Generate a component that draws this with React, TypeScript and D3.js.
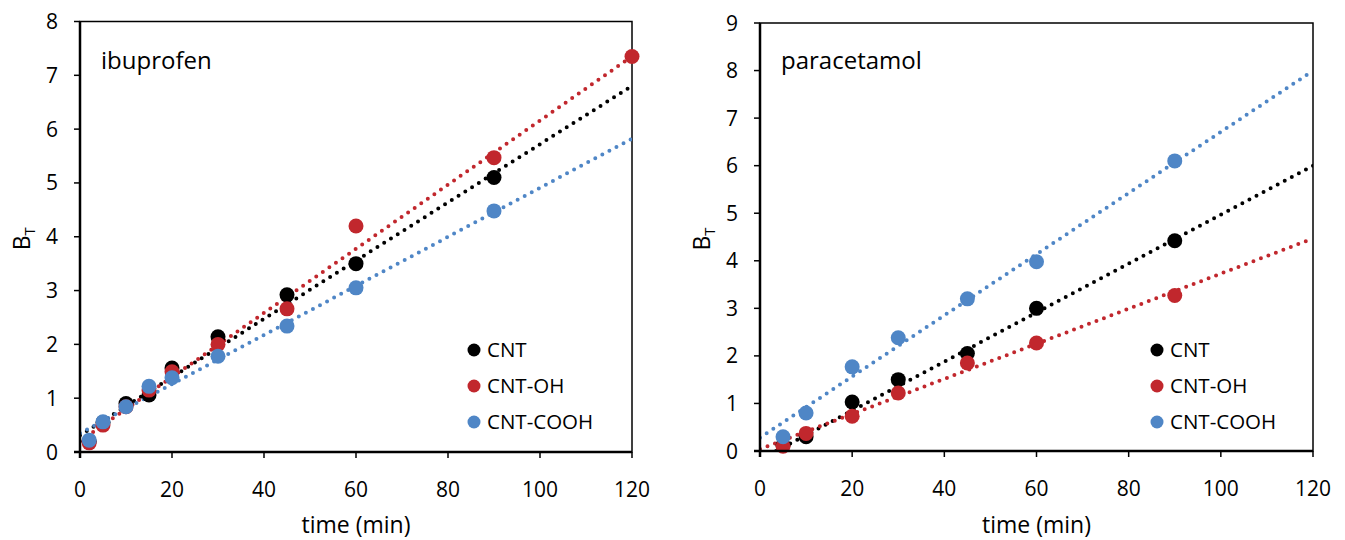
import * as d3 from "d3";

// shared time points (min)
const timeIbu = [2, 5, 10, 15, 20, 30, 45, 60, 90, 120];
const timePara = [5, 10, 20, 30, 45, 60, 90];

// ibuprofen B_T values
const ibuCNT = [0.2, 0.55, 0.9, 1.06, 1.56, 2.14, 2.92, 3.5, 5.1, null];
const ibuOH = [0.17, 0.5, 0.84, 1.15, 1.49, 2.0, 2.66, 4.2, 5.47, 7.35];
const ibuCOOH = [0.22, 0.56, 0.84, 1.22, 1.38, 1.78, 2.34, 3.05, 4.48, null];

// paracetamol B_T values
const paraCNT = [0.12, 0.3, 1.03, 1.5, 2.05, 3.0, 4.42];
const paraOH = [0.1, 0.37, 0.73, 1.22, 1.85, 2.27, 3.27];
const paraCOOH = [0.3, 0.8, 1.77, 2.38, 3.2, 3.98, 6.1];

// linear trendlines [intercept, slope]
const ibuTrend = [
  [0.31, 0.0541],
  [0.2, 0.0596],
  [0.35, 0.0456],
];
const paraTrend = [
  [-0.18, 0.0515],
  [0.04, 0.0369],
  [0.28, 0.0643],
];

const seriesNames = ["CNT", "CNT-OH", "CNT-COOH"];
const colors = ["#000000", "#C1272D", "#4F86C6"];
const xTicks = [0, 20, 40, 60, 80, 100, 120];

const FONT = "'Open Sans', 'Noto Sans', sans-serif";

interface PanelProps {
  title: string;
  time: number[];
  series: (number | null)[][];
  trends: number[][];
  yMax: number;
  box: { left: number; right: number; top: number; bottom: number };
  legendX: number;
  labelX: number;
  id: string;
}

function Panel({ title, time, series, trends, yMax, box, legendX, labelX, id }: PanelProps) {
  const x = d3.scaleLinear().domain([0, 120]).range([box.left, box.right]);
  const y = d3.scaleLinear().domain([0, yMax]).range([box.bottom, box.top]);
  const yTicks = d3.range(0, yMax + 1);
  const line = d3
    .line<number>()
    .x((d) => x(d))
    .y((d) => y(d));

  return (
    <g>
      <defs>
        <clipPath id={`clip-${id}`}>
          <rect x={box.left} y={box.top} width={box.right - box.left} height={box.bottom - box.top} />
        </clipPath>
      </defs>

      {/* frame */}
      <rect
        x={box.left}
        y={box.top}
        width={box.right - box.left}
        height={box.bottom - box.top}
        fill="none"
        stroke="#000"
        strokeWidth={1.5}
      />

      {/* trendlines */}
      <g clipPath={`url(#clip-${id})`}>
        {trends.map(([b, m], i) => {
          const x0 = b < 0 ? -b / m : 0;
          const d = line.x((t) => x(t)).y((t) => y(b + m * t))([x0, 120]);
          return (
            <path
              key={i}
              d={d || ""}
              fill="none"
              stroke={colors[i]}
              strokeWidth={4}
              strokeLinecap="round"
              strokeDasharray="0 8"
            />
          );
        })}
      </g>

      {/* points */}
      {series.map((vals, i) =>
        vals.map((v, j) =>
          v == null ? null : (
            <circle key={`${i}-${j}`} cx={x(time[j])} cy={y(v)} r={7.5} fill={colors[i]} />
          )
        )
      )}

      {/* axes */}
      <line x1={box.left} x2={box.left} y1={box.top} y2={box.bottom + 6} stroke="#000" strokeWidth={2.5} />
      <line x1={box.left - 6} x2={box.right} y1={box.bottom} y2={box.bottom} stroke="#000" strokeWidth={2.5} />
      {yTicks.map((t) => (
        <g key={`y${t}`}>
          <line x1={box.left - 6} x2={box.left} y1={y(t)} y2={y(t)} stroke="#000" strokeWidth={1.5} />
          <text
            x={box.left - 22}
            y={y(t)}
            dy="0.36em"
            textAnchor="end"
            fontSize={21}
            fontFamily={FONT}
          >
            {t}
          </text>
        </g>
      ))}
      {xTicks.map((t) => (
        <g key={`x${t}`}>
          <line x1={x(t)} x2={x(t)} y1={box.bottom} y2={box.bottom + 6} stroke="#000" strokeWidth={1.5} />
          <text x={x(t)} y={box.bottom + 45} textAnchor="middle" fontSize={21} fontFamily={FONT}>
            {t}
          </text>
        </g>
      ))}

      <text
        x={(box.left + box.right) / 2}
        y={533}
        textAnchor="middle"
        fontSize={23}
        fontFamily={FONT}
      >
        time (min)
      </text>
      <text
        transform={`translate(${labelX},${(box.top + box.bottom) / 2 + 2}) rotate(-90)`}
        textAnchor="middle"
        fontSize={23}
        fontFamily={FONT}
      >
        B<tspan fontSize={15} dy={5}>T</tspan>
      </text>

      <text x={box.left + 21} y={69} fontSize={24} fontFamily={FONT}>
        {title}
      </text>

      {/* legend */}
      {seriesNames.map((name, i) => (
        <g key={name} transform={`translate(${legendX},${350 + i * 36})`}>
          <circle cx={0} cy={0} r={6.5} fill={colors[i]} />
          <text x={13} y={0} dy="0.36em" fontSize={20.5} fontFamily={FONT}>
            {name}
          </text>
        </g>
      ))}
    </g>
  );
}

export default function App() {
  return (
    <svg
      width={1345}
      height={540}
      style={{ position: "absolute", left: 0, top: 0, background: "#fff" }}
    >
      <Panel
        id="ibu"
        title="ibuprofen"
        time={timeIbu}
        series={[ibuCNT, ibuOH, ibuCOOH]}
        trends={ibuTrend}
        yMax={8}
        box={{ left: 80, right: 632, top: 21.5, bottom: 452 }}
        legendX={474}
        labelX={30}
      />
      <Panel
        id="para"
        title="paracetamol"
        time={timePara}
        series={[paraCNT, paraOH, paraCOOH]}
        trends={paraTrend}
        yMax={9}
        box={{ left: 760, right: 1313, top: 23, bottom: 451 }}
        legendX={1157}
        labelX={710}
      />
    </svg>
  );
}
